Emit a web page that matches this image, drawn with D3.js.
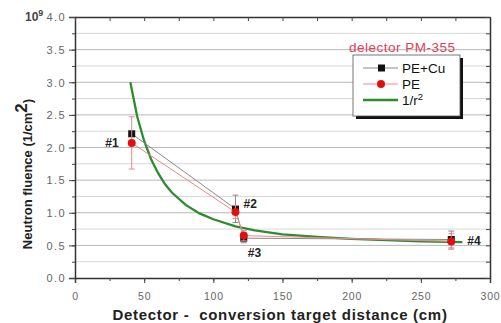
<!DOCTYPE html>
<html>
<head>
<meta charset="utf-8">
<script src="https://cdn.jsdelivr.net/npm/d3@7"></script>
<style>
  body { margin: 0; background: #fff; }
  text { font-family: "Liberation Sans", Arial, sans-serif; }
</style>
</head>
<body>
<div id="main"></div>
<script>
// data
const detectors = ["#1", "#2", "#3", "#4"];
const distance = [41, 116, 122, 272];
const fluencePECu = [2.21, 1.06, 0.61, 0.59];
const errPECu = [0.0, 0.21, 0.07, 0.13];
const fluencePE = [2.07, 1.01, 0.65, 0.56];
const errPE = [0.40, 0.10, 0.08, 0.12];
// 1/r^2 curve points
const curveX = [40, 45, 50, 55, 60, 65, 70, 80, 90, 100, 116, 130, 150, 175, 200, 225, 250, 280];
const curveY = [3.00, 2.47, 2.10, 1.82, 1.61, 1.44, 1.31, 1.12, 0.99, 0.90, 0.79, 0.73, 0.67, 0.63, 0.60, 0.58, 0.56, 0.55];
const xTicks = [0, 50, 100, 150, 200, 250, 300];
const yTicks = [0, 0.5, 1.0, 1.5, 2.0, 2.5, 3.0, 3.5, 4.0];

const width = 501, height = 323;
const plotL = 75, plotR = 490, plotT = 17, plotB = 278;

const svg = d3.select('#main').append('svg')
  .attr('width', width).attr('height', height);

const x = d3.scaleLinear().domain([0, 300]).range([plotL, plotR]);
const y = d3.scaleLinear().domain([0, 4]).range([plotB, plotT]);

//grid lines every 0.25
svg.append('g').selectAll('line').data(d3.range(1, 16).map(i => i * 0.25)).enter()
  .append('line')
  .attr('x1', plotL).attr('x2', plotR)
  .attr('y1', d => y(d)).attr('y2', d => y(d))
  .attr('stroke', (d, i) => i % 2 ? '#b8b8b8' : '#d8d8d8')
  .attr('stroke-width', 1);

//axes
const minorX = d3.range(0, 301, 25);
const minorY = d3.range(0, 17).map(i => i * 0.25);

const xAxis = svg.append('g').attr('transform', `translate(0,${plotB})`)
  .call(d3.axisBottom(x).tickValues(xTicks).tickSize(5).tickFormat(d3.format('d')));
svg.append('g').attr('transform', `translate(0,${plotB})`)
  .call(d3.axisBottom(x).tickValues(minorX).tickSize(3).tickFormat(''))
  .select('.domain').remove();
const yAxis = svg.append('g').attr('transform', `translate(${plotL},0)`)
  .call(d3.axisLeft(y).tickValues(yTicks).tickSize(6).tickFormat(d3.format('.1f')));
svg.append('g').attr('transform', `translate(${plotL},0)`)
  .call(d3.axisLeft(y).tickValues(minorY).tickSize(3).tickFormat(''))
  .select('.domain').remove();
//mirror axes on top and right, ticks inside
svg.append('g').attr('transform', `translate(0,${plotT})`)
  .call(d3.axisBottom(x).tickValues(minorX).tickSizeInner(4).tickSizeOuter(0).tickFormat(''));
svg.append('g').attr('transform', `translate(${plotR},0)`)
  .call(d3.axisLeft(y).tickValues(minorY).tickSizeInner(4).tickSizeOuter(0).tickFormat(''));

svg.selectAll('.domain').attr('stroke', '#333').attr('stroke-width', 1.5);
svg.selectAll('.tick line').attr('stroke', '#444');
xAxis.selectAll('text').attr('fill', '#666').style('font-size', '10.5px')
  .attr('letter-spacing', 0.8).attr('y', 15);
yAxis.selectAll('text').attr('fill', '#666').style('font-size', '11px').attr('x', -9)
  .attr('letter-spacing', 1.4).attr('dy', '0.35em');

//10^9 multiplier
const mult = svg.append('text').attr('x', 25).attr('y', y(4) + 4)
  .attr('fill', '#444').style('font-size', '12px').style('font-weight', 'bold');
mult.append('tspan').text('10');
mult.append('tspan').attr('dy', -5).style('font-size', '9px').text('9');

//axis titles
const yTitle = svg.append('text')
  .attr('transform', `translate(32,174) rotate(-90)`)
  .attr('text-anchor', 'middle')
  .style('font-size', '13px').style('font-weight', 'bold').attr('fill', '#222');
yTitle.append('tspan').text('Neutron fluence (1/cm');
yTitle.append('tspan').attr('dy', -5).style('font-size', '17px').text('2');
yTitle.append('tspan').attr('dy', 5).text(')');

svg.append('text').attr('x', 280).attr('y', 320)
  .attr('text-anchor', 'middle')
  .style('font-size', '15px').style('font-weight', 'bold').style('white-space', 'pre')
  .attr('letter-spacing', 0.7).attr('fill', '#222')
  .text('Detector -  conversion target distance (cm)');

//1/r^2 curve
const curve = curveX.map((d, i) => [d, curveY[i]]);
svg.append('path').datum(curve)
  .attr('d', d3.line().x(d => x(d[0])).y(d => y(d[1])))
  .attr('fill', 'none').attr('stroke', '#2e8b2e').attr('stroke-width', 2.3);

//series
function drawSeries(vals, errs, lineColor, errColor, marker) {
  const pts = distance.map((d, i) => ({x: d, y: vals[i], e: errs[i]}));
  svg.append('path').datum(pts)
    .attr('d', d3.line().x(d => x(d.x)).y(d => y(d.y)))
    .attr('fill', 'none').attr('stroke', lineColor).attr('stroke-width', 1);
  const eb = svg.append('g').selectAll('g').data(pts.filter(d => d.e > 0)).enter().append('g')
    .attr('stroke', errColor).attr('stroke-width', 1);
  eb.append('line').attr('x1', d => x(d.x)).attr('x2', d => x(d.x))
    .attr('y1', d => y(d.y - d.e)).attr('y2', d => y(d.y + d.e));
  eb.append('line').attr('x1', d => x(d.x) - 3).attr('x2', d => x(d.x) + 3)
    .attr('y1', d => y(d.y - d.e)).attr('y2', d => y(d.y - d.e));
  eb.append('line').attr('x1', d => x(d.x) - 3).attr('x2', d => x(d.x) + 3)
    .attr('y1', d => y(d.y + d.e)).attr('y2', d => y(d.y + d.e));
  const m = svg.append('g').selectAll('.pt').data(pts).enter();
  if (marker === 'square') {
    m.append('rect').attr('x', d => x(d.x) - 3.5).attr('y', d => y(d.y) - 3.5)
      .attr('width', 7).attr('height', 7).attr('fill', '#111');
  } else {
    m.append('circle').attr('cx', d => x(d.x)).attr('cy', d => y(d.y))
      .attr('r', 4).attr('fill', '#e01010');
  }
}
drawSeries(fluencePECu, errPECu, '#8a8a8a', '#8a8a8a', 'square');
drawSeries(fluencePE, errPE, '#ee8a8a', '#e88a8a', 'circle');

//detector labels
const labelPos = [[-13, 4, 'end'], [8, -4, 'start'], [4, 21, 'start'], [16, 4, 'start']];
svg.append('g').selectAll('text').data(detectors).enter().append('text')
  .attr('x', (d, i) => x(distance[i]) + labelPos[i][0])
  .attr('y', (d, i) => y(fluencePE[i]) + labelPos[i][1])
  .attr('text-anchor', (d, i) => labelPos[i][2])
  .style('font-size', '12px').style('font-weight', 'bold').attr('fill', '#222')
  .text(d => d);

//legend
svg.append('text').attr('x', 349).attr('y', 52)
  .style('font-size', '13.5px').attr('fill', '#e0405a').attr('letter-spacing', 0.5)
  .text('delector PM-355');
svg.append('rect').attr('x', 356).attr('y', 58).attr('width', 107).attr('height', 61)
  .attr('fill', '#111');
svg.append('rect').attr('x', 353).attr('y', 55).attr('width', 107).attr('height', 61)
  .attr('fill', '#fff').attr('stroke', '#555').attr('stroke-width', 0.8);
const legendItems = ['PE+Cu', 'PE', '1/r'];
const lg = svg.append('g').selectAll('g').data(legendItems).enter().append('g')
  .attr('transform', (d, i) => `translate(0,${68 + i * 16})`);
lg.append('line').attr('x1', 363).attr('x2', 398).attr('y1', 0).attr('y2', 0)
  .attr('stroke', (d, i) => ['#8a8a8a', '#ee8a8a', '#2e8b2e'][i])
  .attr('stroke-width', (d, i) => i === 2 ? 2.5 : 1);
lg.filter((d, i) => i === 0).append('rect').attr('x', 378).attr('y', -3.5)
  .attr('width', 7).attr('height', 7).attr('fill', '#111');
lg.filter((d, i) => i === 1).append('circle').attr('cx', 381).attr('cy', 0)
  .attr('r', 4).attr('fill', '#e01010');
const lt = lg.append('text').attr('x', 402).attr('y', 5)
  .style('font-size', '13.5px').attr('fill', '#111').text(d => d);
lt.filter((d, i) => i === 2).append('tspan').attr('dy', -5).style('font-size', '9.5px').text('2');
</script>
</body>
</html>
